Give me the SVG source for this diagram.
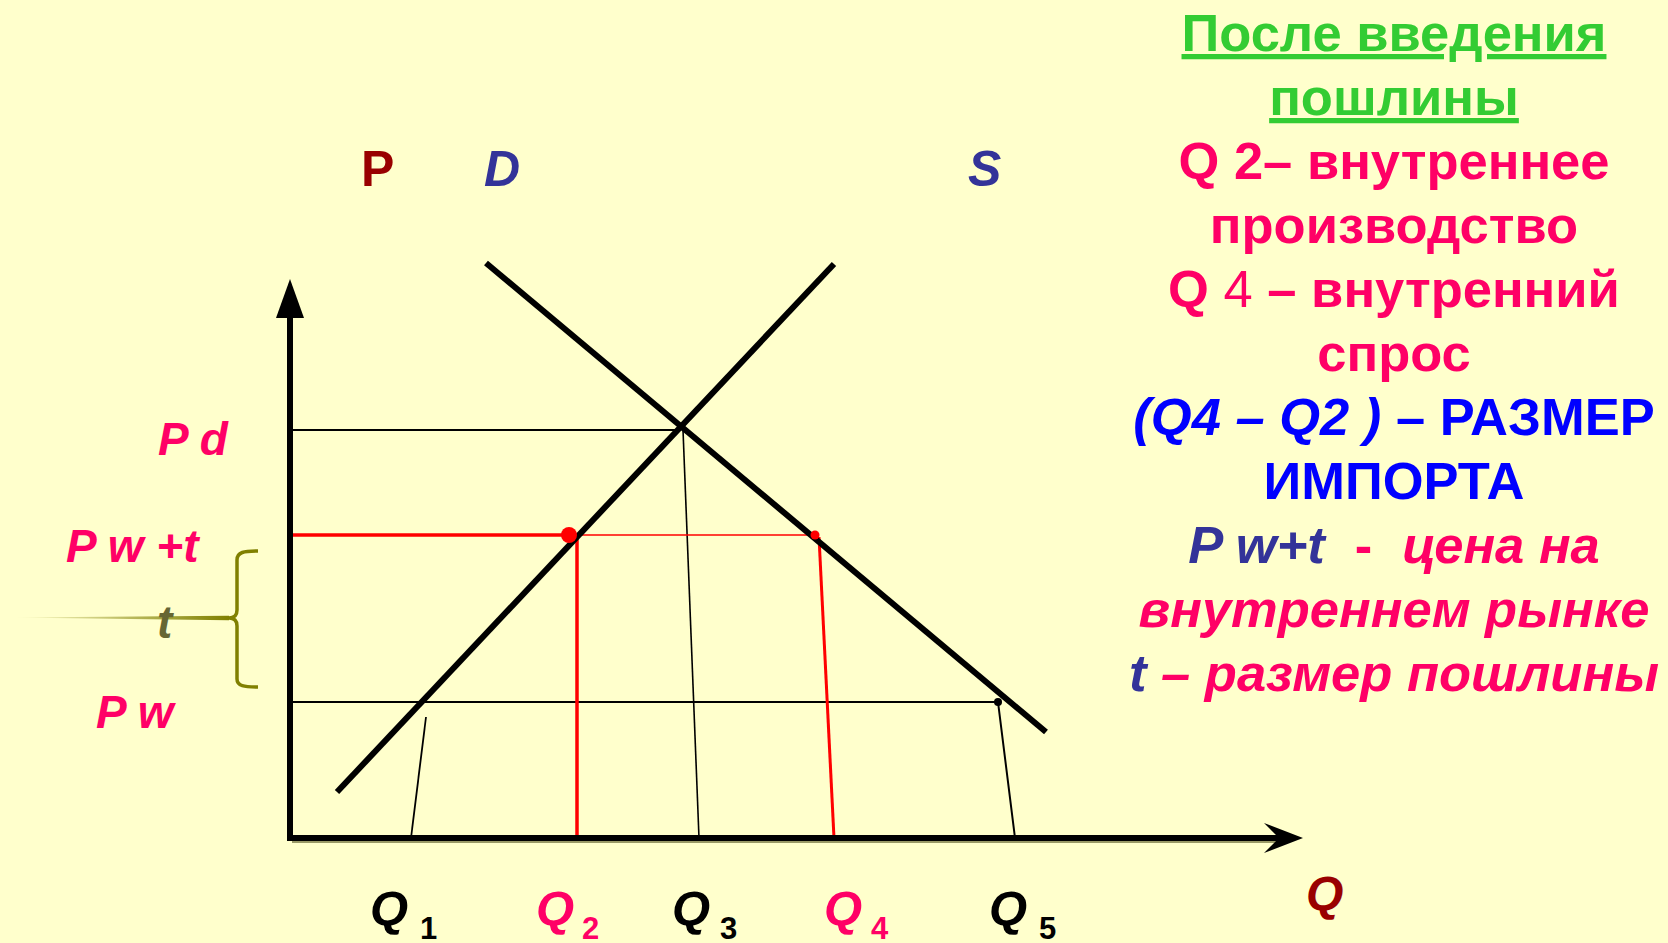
<svg xmlns="http://www.w3.org/2000/svg" width="1668" height="943" viewBox="0 0 1668 943">
<style>
.b{font-family:"Liberation Sans",Arial,sans-serif;font-weight:bold}
.i{font-style:italic}
.n{font-weight:normal}
.pink{fill:#FF0066}
.blue{fill:#0000FF}
.dblue{fill:#333399}
.dred{fill:#990000}
.blk{fill:#000000}
.grn{fill:#33CC33}
.r{font-size:52.5px;text-anchor:middle}
.lbl{font-size:46px}
.q{font-size:49px}
.sub{font-size:31px;font-style:normal}
.curve{stroke:#000;stroke-width:6;fill:none}
.thin{stroke:#000;stroke-width:2;fill:none}
.red{stroke:#FF0000;fill:none}
</style>
<defs>
<linearGradient id="fade" x1="0" y1="0" x2="1" y2="0">
<stop offset="0" stop-color="#808000" stop-opacity="0"/>
<stop offset="1" stop-color="#808000" stop-opacity="1"/>
</linearGradient>
</defs>
<rect width="1668" height="943" fill="#FFFFCC"/>

<g id="connectors">
<line class="thin" x1="290" y1="430" x2="681" y2="430"/>
<line class="thin" x1="683" y1="430" x2="699" y2="838" style="stroke-width:1.6"/>
<line class="thin" x1="290" y1="702" x2="998" y2="702"/>
<line class="thin" x1="426" y1="717" x2="411" y2="838" style="stroke-width:1.8"/>
<line class="thin" x1="998" y1="702" x2="1015" y2="838"/>
<line class="red" x1="290" y1="535" x2="569" y2="535" stroke-width="3.5"/>
<line class="red" x1="569" y1="535" x2="815" y2="535" stroke-width="1.6"/>
<line class="red" x1="577" y1="535" x2="577" y2="838" stroke-width="3.5"/>
<line class="red" x1="819" y1="537" x2="834" y2="838" stroke-width="3"/>
</g>

<g id="curve-S"><line class="curve" x1="337" y1="792" x2="834" y2="264"/></g>
<g id="curve-D"><line class="curve" x1="486" y1="263" x2="1046" y2="732"/></g>

<g id="axes">
<line x1="292" y1="841" x2="1285" y2="841" stroke="#999966" stroke-width="4"/>
<line x1="290" y1="316" x2="290" y2="841" stroke="#000" stroke-width="6"/>
<polygon points="290,279 276,318 304,318" fill="#000"/>
<line x1="287" y1="838" x2="1282" y2="838" stroke="#000" stroke-width="6"/>
<polygon points="1303,838 1264,823 1279,838 1264,853" fill="#000"/>
</g>

<g id="points">
<circle cx="569" cy="535" r="8" fill="#FF0000"/>
<circle cx="815" cy="535" r="4.5" fill="#FF0000"/>
<circle cx="998" cy="702" r="4" fill="#000"/>
</g>

<g id="bracket">
<path d="M12,617.5 L229,615.8 L229,620.2 Z" fill="url(#fade)"/>
<path d="M258,551 C244,551 237,552 237,560 L237,610 C237,616 234,618 229,618 C234,618 237,620 237,626 L237,679 C237,686 244,687 258,687" stroke="#808000" stroke-width="3.5" fill="none"/>
<text class="b i lbl" x="157" y="638" fill="#666633">t</text>
</g>

<g id="axis-labels">
<text class="b dred" x="361" y="186" style="font-size:50px">P</text>
<text class="b i dblue" x="484" y="186" style="font-size:50px">D</text>
<text class="b i dblue" x="968" y="186" style="font-size:50px">S</text>
<text class="b i dred" x="1306" y="910" style="font-size:48px">Q</text>
</g>

<g id="price-labels">
<text class="b i lbl pink" x="158" y="455">P d</text>
<text class="b i lbl pink" x="66" y="562">P w +t</text>
<text class="b i lbl pink" x="96" y="728">P w</text>
</g>

<g id="quantity-labels">
<text class="b i q blk" x="370" y="925">Q<tspan class="sub" x="420" y="939">1</tspan></text>
<text class="b i q pink" x="536" y="925">Q<tspan class="sub" x="582" y="939">2</tspan></text>
<text class="b i q blk" x="672" y="925">Q<tspan class="sub" x="720" y="939">3</tspan></text>
<text class="b i q pink" x="824" y="925">Q<tspan class="sub" x="871" y="939">4</tspan></text>
<text class="b i q blk" x="989" y="925">Q<tspan class="sub" x="1039" y="939">5</tspan></text>
</g>

<g id="legend">
<text class="b r grn" x="1394" y="51" text-decoration="underline">После введения</text>
<text class="b r grn" x="1394" y="115" text-decoration="underline">пошлины</text>
<text class="b r pink" x="1394" y="179">Q 2– внутреннее</text>
<text class="b r pink" x="1394" y="243">производство</text>
<text class="b r pink" x="1394" y="307">Q <tspan class="n">4</tspan> – внутренний</text>
<text class="b r pink" x="1394" y="371">спрос</text>
<text class="b r blue" x="1394" y="435"><tspan class="i">(Q4 – Q2 )</tspan> – РАЗМЕР</text>
<text class="b r blue" x="1394" y="499">ИМПОРТА</text>
<text class="b r" x="1394" y="563"><tspan class="i dblue">P w+t</tspan><tspan class="pink" dx="30">-</tspan><tspan class="i pink" dx="30">цена на</tspan></text>
<text class="b r i pink" x="1394" y="627">внутреннем рынке</text>
<text class="b r i pink" x="1394" y="691"><tspan class="dblue">t</tspan> – размер пошлины</text>
</g>
</svg>
